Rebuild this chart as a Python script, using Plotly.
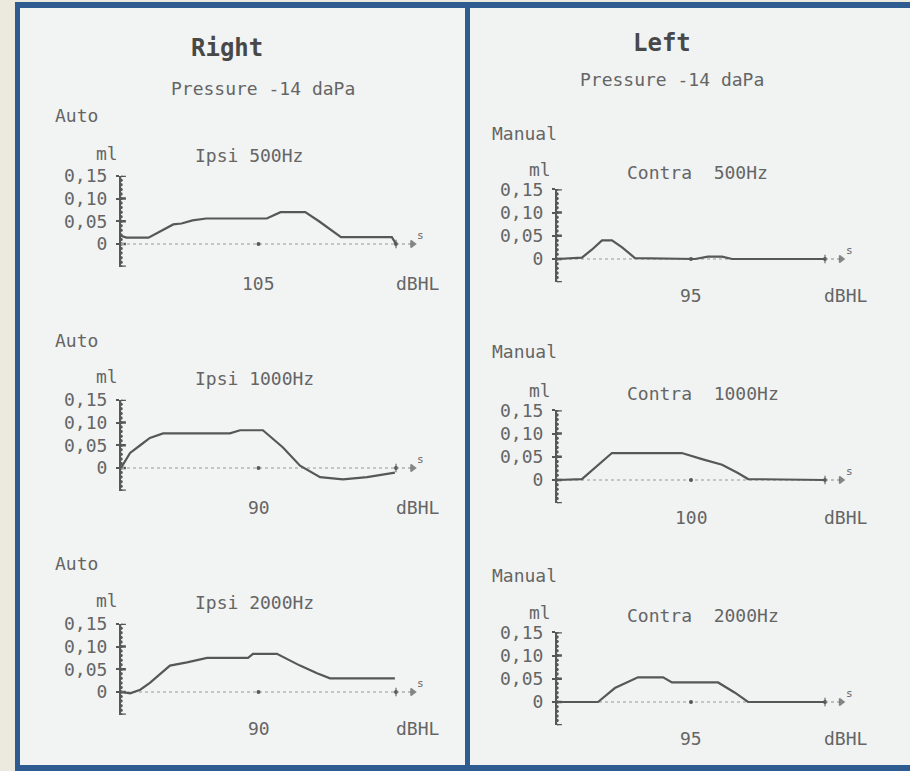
import plotly.graph_objects as go

W, H = 910, 771

# ---- report content -------------------------------------------------------
ears = ["Right", "Left"]
pressure_dapa = [-14, -14]
modes = ["Auto", "Manual"]
stim_routes = ["Ipsi ", "Contra  "]
freqs = ["500Hz", "1000Hz", "2000Hz"]
levels_right = [105, 90, 90]     # dBHL
levels_left = [95, 100, 95]      # dBHL

ytick_vals = [0, 0.05, 0.10, 0.15]
ytick_text = ["0", "0,05", "0,10", "0,15"]

# reflex recordings: normalised time (0..1) vs compliance change (ml)
r500_t = [0.00, 0.02, 0.10, 0.19, 0.22, 0.26, 0.31, 0.50, 0.53, 0.58, 0.67, 0.72, 0.80, 0.985, 1.00]
r500_v = [0.018, 0.014, 0.014, 0.043, 0.045, 0.052, 0.056, 0.055, 0.056, 0.070, 0.070, 0.050, 0.015, 0.015, 0.0]

r1000_t = [0.00, 0.033, 0.07, 0.105, 0.153, 0.396, 0.433, 0.516, 0.589, 0.651, 0.724, 0.807, 0.895, 0.996]
r1000_v = [0.0, 0.033, 0.050, 0.066, 0.076, 0.076, 0.083, 0.083, 0.045, 0.005, -0.020, -0.025, -0.020, -0.010]

r2000_t = [0.00, 0.033, 0.07, 0.105, 0.178, 0.24, 0.313, 0.462, 0.48, 0.567, 0.651, 0.713, 0.76, 0.996]
r2000_v = [0.0, -0.003, 0.005, 0.020, 0.058, 0.065, 0.075, 0.075, 0.084, 0.084, 0.058, 0.041, 0.030, 0.030]

l500_t = [0.00, 0.093, 0.13, 0.168, 0.205, 0.243, 0.291, 0.515, 0.563, 0.616, 0.653, 1.00]
l500_v = [0.0, 0.003, 0.020, 0.040, 0.040, 0.025, 0.002, 0.0, 0.005, 0.005, 0.0, 0.0]

l1000_t = [0.00, 0.093, 0.205, 0.466, 0.541, 0.616, 0.675, 0.713, 1.00]
l1000_v = [0.0, 0.002, 0.058, 0.058, 0.045, 0.033, 0.015, 0.002, 0.0]

l2000_t = [0.00, 0.153, 0.216, 0.302, 0.396, 0.429, 0.601, 0.664, 0.713, 1.00]
l2000_v = [0.0, 0.0, 0.030, 0.053, 0.053, 0.042, 0.042, 0.020, 0.0, 0.0]

curves = [
    [(r500_t, r500_v), (r1000_t, r1000_v), (r2000_t, r2000_v)],
    [(l500_t, l500_v), (l1000_t, l1000_v), (l2000_t, l2000_v)],
]
levels = [levels_right, levels_left]

# ---- page geometry (pixels) ----------------------------------------------
def px(x):
    return x / W


def py(y):
    return 1 - y / H


INK = "#575757"
TXT = "#656565"
FONT = "DejaVu Sans Mono"
FS = 18
XMAX = 1.14

col_geom = [
    dict(x0=121, x1=396, zeros=[244, 468, 692], k=455, ml_x=107, title_x=193,
         title_y=[156, 378, 602], ml_y=[154, 376, 600], mode_x=53, mode_y=[115, 340, 563],
         level_y=[283, 507, 728], ear=(227, 48), press=(263, 88)),
    dict(x0=557, x1=825, zeros=[259, 480, 702], k=465, ml_x=540, title_x=625,
         title_y=[172, 393, 615], ml_y=[169, 390, 612], mode_x=490, mode_y=[133, 352, 575],
         level_y=[295, 517, 738], ear=(662, 43), press=(672, 80)),
]

fig = go.Figure()
layout = dict(
    width=W, height=H, margin=dict(l=0, r=0, t=0, b=0, pad=0),
    paper_bgcolor="#ece9df", plot_bgcolor="rgba(0,0,0,0)",
    showlegend=False, font=dict(family=FONT, color=TXT, size=FS),
)
shapes = [
    # blue frame and divider
    dict(type="rect", xref="paper", yref="paper", x0=px(15), x1=px(930),
         y0=py(2), y1=py(790), fillcolor="#2e5b90", line=dict(width=0), layer="below"),
    dict(type="rect", xref="paper", yref="paper", x0=px(20), x1=px(465),
         y0=py(8), y1=py(765), fillcolor="#f2f4f4", line=dict(width=0), layer="below"),
    dict(type="rect", xref="paper", yref="paper", x0=px(470), x1=px(930),
         y0=py(8), y1=py(765), fillcolor="#f1f3f3", line=dict(width=0), layer="below"),
]
annotations = []

idx = 0
for c, g in enumerate(col_geom):
    # ear heading and pressure line
    annotations.append(dict(xref="paper", yref="paper", x=px(g["ear"][0]), y=py(g["ear"][1]),
                            text=f"<b>{ears[c]}</b>", showarrow=False,
                            font=dict(size=24, color="#484848"), xanchor="center", yanchor="middle"))
    annotations.append(dict(xref="paper", yref="paper", x=px(g["press"][0]), y=py(g["press"][1]),
                            text=f"Pressure {pressure_dapa[c]} daPa", showarrow=False,
                            xanchor="center", yanchor="middle"))
    for r in range(3):
        idx += 1
        xa = "x" if idx == 1 else f"x{idx}"
        ya = "y" if idx == 1 else f"y{idx}"
        xk = "xaxis" if idx == 1 else f"xaxis{idx}"
        yk = "yaxis" if idx == 1 else f"yaxis{idx}"
        z, k = g["zeros"][r], g["k"]
        span = g["x1"] - g["x0"]
        layout[xk] = dict(domain=[px(g["x0"]), px(g["x0"] + XMAX * span)], range=[0, XMAX],
                          visible=False, anchor=ya, automargin=False)
        layout[yk] = dict(domain=[py(z + 0.05 * k), py(z - 0.15 * k)], range=[-0.05, 0.15],
                          anchor=xa, automargin=False, showgrid=False, zeroline=False,
                          showline=True, linecolor=INK, linewidth=2, ticks="outside", ticklen=3,
                          tickcolor=INK, tickwidth=2, tickvals=ytick_vals, ticktext=ytick_text,
                          ticklabelstandoff=5, tickfont=dict(size=FS, color=TXT))

        # bead marks along the vertical axis
        minor = [round(-0.05 + 0.01 * i, 3) for i in range(21)]
        fig.add_trace(go.Scatter(x=[0] * len(minor), y=minor, mode="markers", xaxis=xa, yaxis=ya,
                                 marker=dict(symbol="circle", size=3.5, color=INK),
                                 hoverinfo="skip"))
        fig.add_trace(go.Scatter(x=[0] * 5, y=[-0.05] + ytick_vals, mode="markers", xaxis=xa, yaxis=ya,
                                 marker=dict(symbol="line-ew", size=7, line=dict(width=2.5, color=INK)),
                                 hoverinfo="skip"))
        # dotted time baseline with mid and end marks, arrow to "s"
        fig.add_trace(go.Scatter(x=[0, 1], y=[0, 0], mode="lines", xaxis=xa, yaxis=ya,
                                 line=dict(color="#b4b8ba", width=1.5, dash="dot"), hoverinfo="skip"))
        fig.add_trace(go.Scatter(x=[0.5, 1.0], y=[0, 0], mode="markers", xaxis=xa, yaxis=ya,
                                 marker=dict(symbol="circle", size=4, color=INK), hoverinfo="skip"))
        fig.add_trace(go.Scatter(x=[1.0, 1.06], y=[0, 0], mode="lines+markers", xaxis=xa, yaxis=ya,
                                 line=dict(color="#8a8a8a", width=1.2, dash="dot"),
                                 marker=dict(symbol=["line-ns", "triangle-right"], size=[6, 6],
                                             color=INK, line=dict(width=1.5, color=INK)),
                                 hoverinfo="skip"))
        annotations.append(dict(xref=xa, yref=ya, x=1.09, y=0.018, text="s", showarrow=False,
                                font=dict(size=11, color=TXT), xanchor="center", yanchor="middle"))

        # recorded reflex
        t, v = curves[c][r]
        fig.add_trace(go.Scatter(x=t, y=v, mode="lines", xaxis=xa, yaxis=ya,
                                 line=dict(color=INK, width=2.2), hoverinfo="skip"))

        # labels
        annotations.append(dict(xref="paper", yref="paper", x=px(g["mode_x"]), y=py(g["mode_y"][r]),
                                text=modes[c], showarrow=False, xanchor="left", yanchor="middle"))
        annotations.append(dict(xref="paper", yref="paper", x=px(g["ml_x"]), y=py(g["ml_y"][r]),
                                text="ml", showarrow=False, xanchor="center", yanchor="middle"))
        annotations.append(dict(xref="paper", yref="paper", x=px(g["title_x"]), y=py(g["title_y"][r]),
                                text=f"{stim_routes[c]}{freqs[r]}".replace(" ", "&nbsp;"),
                                showarrow=False, xanchor="left", yanchor="middle"))
        annotations.append(dict(xref=xa, yref="paper", x=0.5, y=py(g["level_y"][r]),
                                text=str(levels[c][r]), showarrow=False,
                                xanchor="center", yanchor="middle"))
        annotations.append(dict(xref=xa, yref="paper", x=1.08, y=py(g["level_y"][r]),
                                text="dBHL", showarrow=False, xanchor="center", yanchor="middle"))

layout["shapes"] = shapes
layout["annotations"] = annotations
fig.update_layout(**layout)
fig.write_html("out.html")
